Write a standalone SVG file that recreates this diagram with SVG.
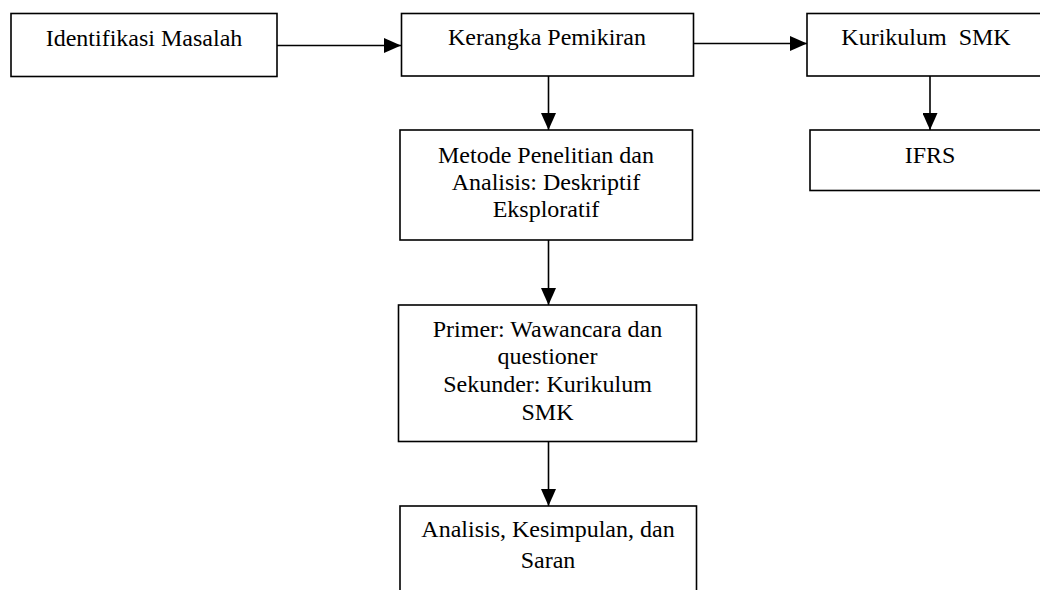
<svg xmlns="http://www.w3.org/2000/svg" width="1040" height="590" viewBox="0 0 1040 590">
<style>
.box{fill:#fff;stroke:#000;stroke-width:1.6}
.t{font-family:"Liberation Serif","Times New Roman",serif;font-size:24px;fill:#000;text-anchor:middle;white-space:pre}
.c{stroke:#000;stroke-width:1.6;fill:none}
</style>
<defs>
<marker id="ah" markerUnits="userSpaceOnUse" markerWidth="17" markerHeight="15" refX="17" refY="7.5" orient="auto">
<path d="M0,0 L17,7.5 L0,15 Z" fill="#000"/>
</marker>
</defs>
<rect width="1040" height="590" fill="#fff"/>
<g id="connectors">
<line class="c" x1="277" y1="45.5" x2="401" y2="45.5" marker-end="url(#ah)"/>
<line class="c" x1="693" y1="43.5" x2="807" y2="43.5" marker-end="url(#ah)"/>
<line class="c" x1="548.5" y1="76" x2="548.5" y2="130" marker-end="url(#ah)"/>
<line class="c" x1="930" y1="76" x2="930" y2="130" marker-end="url(#ah)"/>
<line class="c" x1="548.5" y1="240" x2="548.5" y2="305" marker-end="url(#ah)"/>
<line class="c" x1="548.5" y1="442" x2="548.5" y2="506" marker-end="url(#ah)"/>
</g>
<g id="identifikasi">
<rect class="box" x="11" y="13.5" width="266" height="63"/>
<text class="t" x="144" y="46">Identifikasi Masalah</text>
</g>
<g id="kerangka">
<rect class="box" x="401.5" y="13.5" width="292" height="62.5"/>
<text class="t" x="547" y="45">Kerangka Pemikiran</text>
</g>
<g id="kurikulum">
<rect class="box" x="807" y="13.5" width="243" height="62.5"/>
<text class="t" x="926" y="45" xml:space="preserve">Kurikulum  SMK</text>
</g>
<g id="ifrs">
<rect class="box" x="810" y="130" width="240" height="60.5"/>
<text class="t" x="930" y="163">IFRS</text>
</g>
<g id="metode">
<rect class="box" x="400" y="130" width="292.5" height="110"/>
<text class="t" x="546" y="163">Metode Penelitian dan</text>
<text class="t" x="546" y="190">Analisis: Deskriptif</text>
<text class="t" x="546" y="216.5">Eksploratif</text>
</g>
<g id="primer">
<rect class="box" x="398.5" y="305" width="298" height="136.5"/>
<text class="t" x="547.5" y="336.5">Primer: Wawancara dan</text>
<text class="t" x="547.5" y="363.5">questioner</text>
<text class="t" x="547.5" y="391.5">Sekunder: Kurikulum</text>
<text class="t" x="547.5" y="419.5">SMK</text>
</g>
<g id="analisis">
<rect class="box" x="400" y="506" width="296.5" height="100"/>
<text class="t" x="548" y="536.5">Analisis, Kesimpulan, dan</text>
<text class="t" x="548" y="568">Saran</text>
</g>
</svg>
